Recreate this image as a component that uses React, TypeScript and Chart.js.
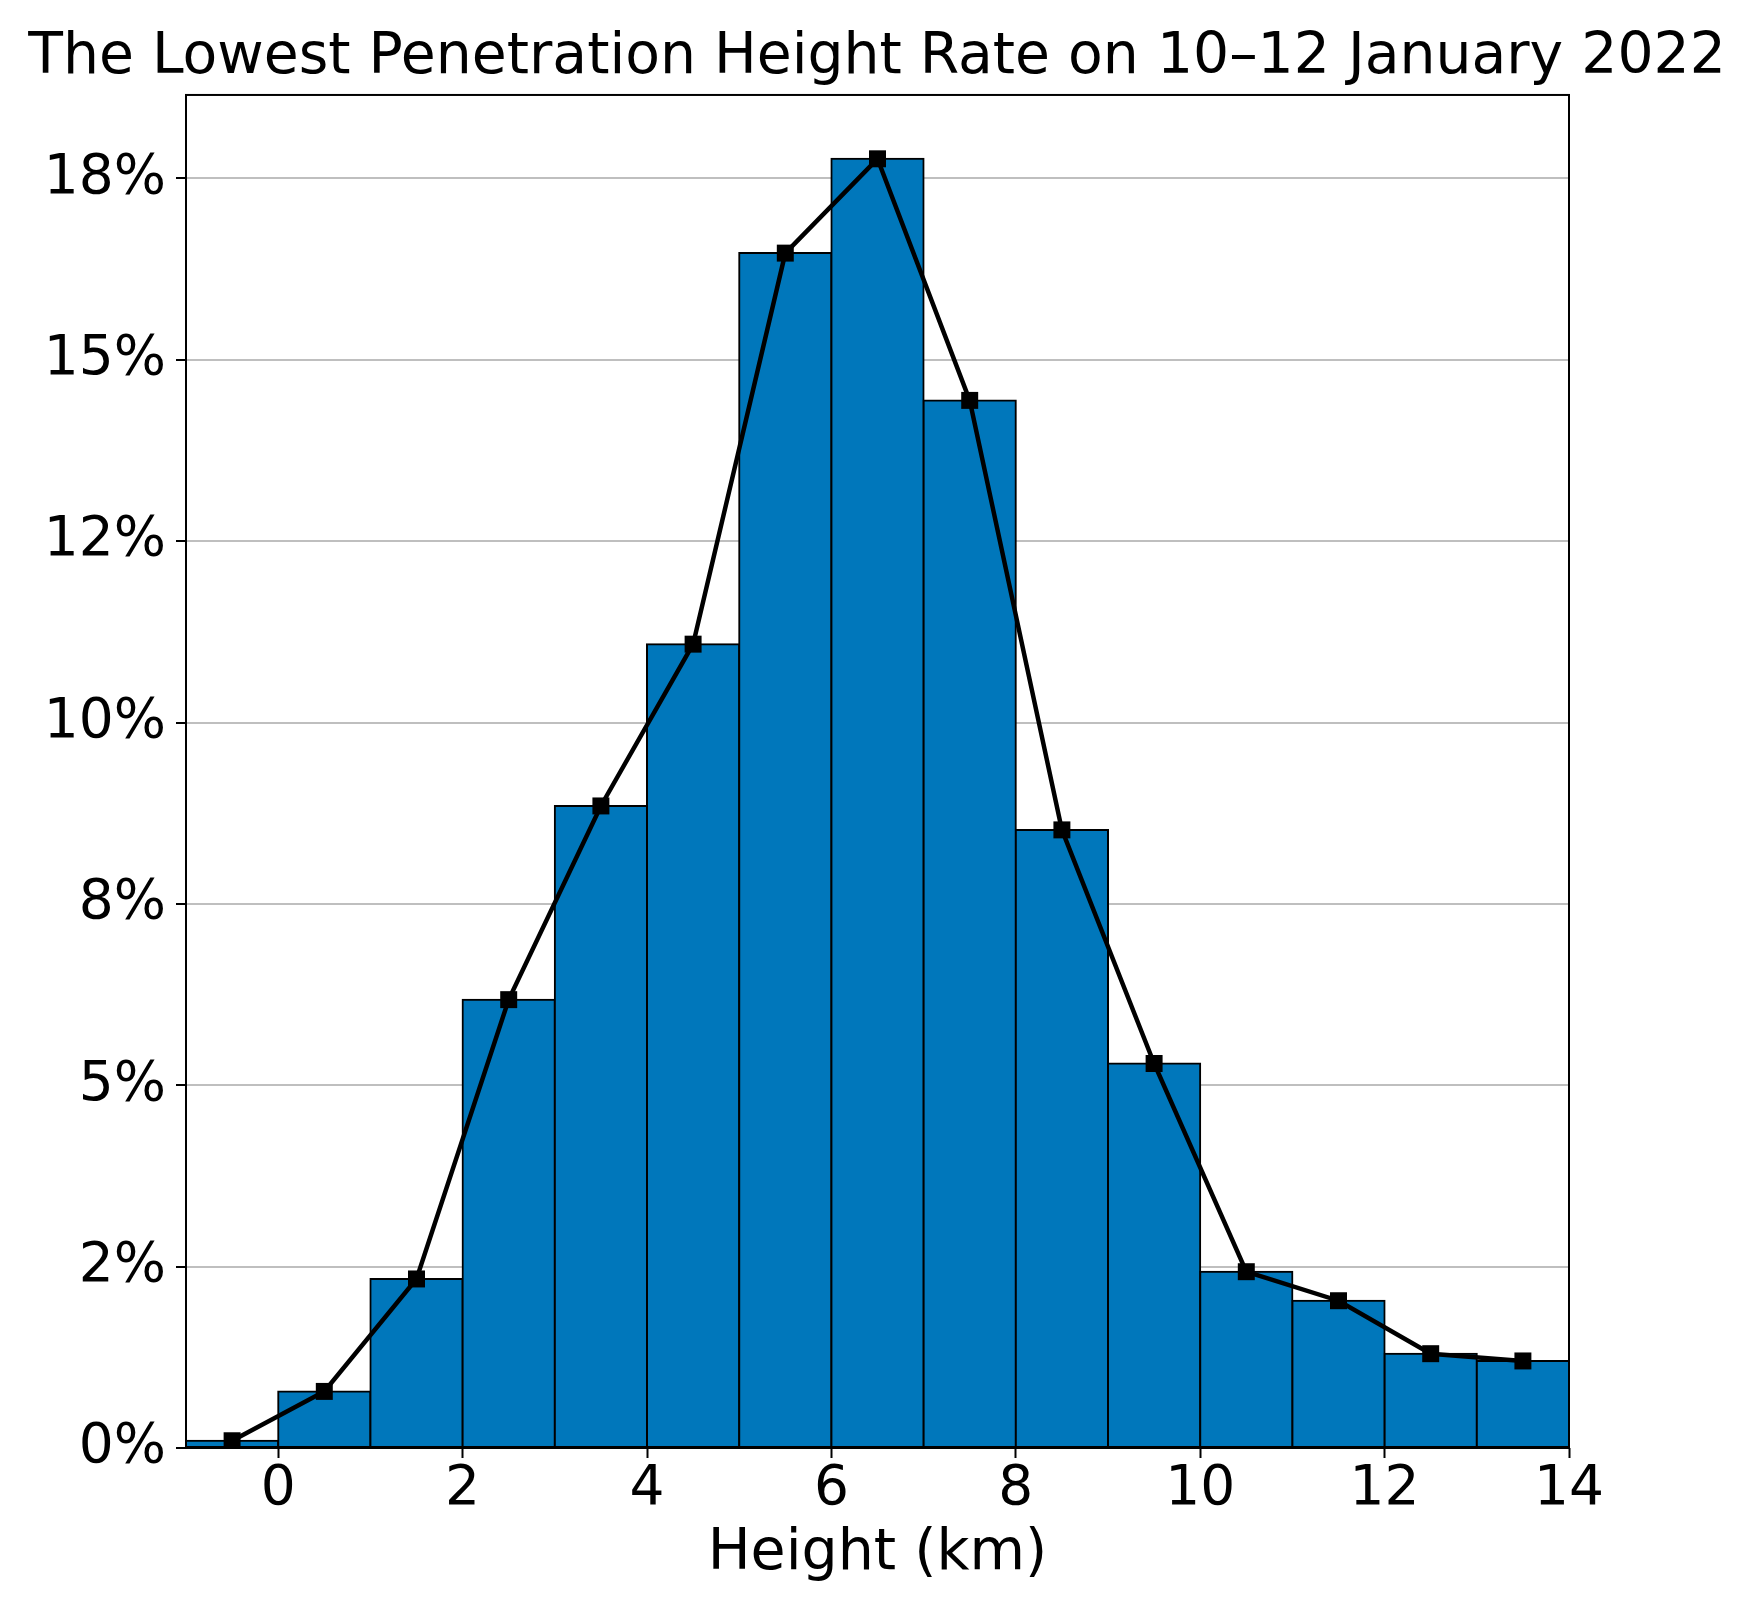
import React, { useEffect, useRef } from 'react';
import { Chart, registerables } from 'chart.js';

Chart.register(...registerables);

const titleText = 'The Lowest Penetration Height Rate on 10–12 January 2022';
const xAxisLabel = 'Height (km)';
const binCenters = [-0.5, 0.5, 1.5, 2.5, 3.5, 4.5, 5.5, 6.5, 7.5, 8.5, 9.5, 10.5, 11.5, 12.5, 13.5];
const rates = [0.1, 0.78, 2.33, 6.18, 8.85, 11.08, 16.47, 17.77, 14.44, 8.52, 5.3, 2.43, 2.03, 1.3, 1.2];
const xTickValues = [0, 2, 4, 6, 8, 10, 12, 14];
const yTickValues = [0, 2.5, 5, 7.5, 10, 12.5, 15, 17.5];
const yTickLabels = ['0%', '2%', '5%', '8%', '10%', '12%', '15%', '18%'];

const FONT = "'DejaVu Sans', 'Liberation Sans', sans-serif";

const framePlugin = {
  id: 'frame',
  afterDatasetsDraw(chart: any) {
    const { ctx, chartArea } = chart;
    const { left, top, right, bottom } = chartArea;
    ctx.save();
    ctx.strokeStyle = '#000';
    ctx.lineWidth = 2;
    ctx.strokeRect(left, top, right - left, bottom - top);
    ctx.restore();
  },
};

export default function App() {
  const ref = useRef<HTMLCanvasElement | null>(null);

  useEffect(() => {
    if (!ref.current) return;
    const points = binCenters.map((x, i) => ({ x, y: rates[i] }));
    const chart = new Chart(ref.current, {
      type: 'bar',
      data: {
        datasets: [
          {
            type: 'line',
            data: points,
            borderColor: '#000',
            borderWidth: 4.5,
            pointStyle: 'rect',
            pointRadius: 12,
            pointBackgroundColor: '#000',
            pointBorderColor: '#000',
            pointBorderWidth: 0,
            tension: 0,
            order: 0,
          } as any,
          {
            type: 'bar',
            data: points,
            backgroundColor: '#0077BB',
            borderColor: '#000',
            borderWidth: 2,
            borderSkipped: false,
            inflateAmount: 1,
            barPercentage: 1,
            categoryPercentage: 1,
            order: 1,
          } as any,
        ],
      },
      options: {
        responsive: false,
        animation: false,
        layout: { padding: 0 },
        plugins: {
          legend: { display: false },
          tooltip: { enabled: false },
          title: {
            display: true,
            text: titleText,
            color: '#000',
            font: { family: FONT, size: 56.8, weight: 'normal', lineHeight: 1.2 },
            padding: { top: 24.4, bottom: 2.4 },
          },
        },
        scales: {
          x: {
            type: 'linear',
            min: -1,
            max: 14,
            offset: false,
            afterBuildTicks: (scale: any) => {
              scale.ticks = xTickValues.map((v) => ({ value: v }));
            },
            afterFit: (scale: any) => {
              scale.height = 164;
            },
            border: { display: false },
            grid: {
              offset: false,
              drawOnChartArea: false,
              drawTicks: true,
              tickLength: 10,
              tickColor: '#000',
              tickWidth: 2,
            },
            ticks: {
              color: '#000',
              padding: 4,
              maxRotation: 0,
              autoSkip: false,
              font: { family: FONT, size: 55, lineHeight: 1 },
              callback: (v: any) => String(v),
            },
            title: {
              display: true,
              text: xAxisLabel,
              color: '#000',
              font: { family: FONT, size: 57, lineHeight: 1.2 },
              padding: { top: 0, bottom: 24 },
            },
          },
          y: {
            type: 'linear',
            position: 'left',
            min: 0,
            max: 18.65,
            afterBuildTicks: (scale: any) => {
              scale.ticks = yTickValues.map((v) => ({ value: v }));
            },
            afterFit: (scale: any) => {
              scale.width = 186;
            },
            border: { display: false },
            grid: {
              color: '#bfbfbf',
              lineWidth: 2,
              drawTicks: true,
              tickLength: 10,
              tickColor: '#000',
              tickWidth: 2,
            },
            ticks: {
              color: '#000',
              padding: 10,
              autoSkip: false,
              font: { family: FONT, size: 55, lineHeight: 1.2 },
              callback: (_v: any, i: number) => yTickLabels[i],
            },
          },
          yRight: {
            type: 'linear',
            position: 'right',
            display: true,
            min: 0,
            max: 18.65,
            afterFit: (scale: any) => {
              scale.width = 185;
            },
            border: { display: false },
            grid: { drawOnChartArea: false, drawTicks: false, display: false },
            ticks: { display: false },
          },
        },
      } as any,
      plugins: [framePlugin],
    });
    return () => chart.destroy();
  }, []);

  return (
    <div style={{ position: 'absolute', left: 0, top: 0, width: 1754, height: 1612, background: '#fff' }}>
      <canvas ref={ref} width={1754} height={1612} style={{ display: 'block' }} />
    </div>
  );
}
